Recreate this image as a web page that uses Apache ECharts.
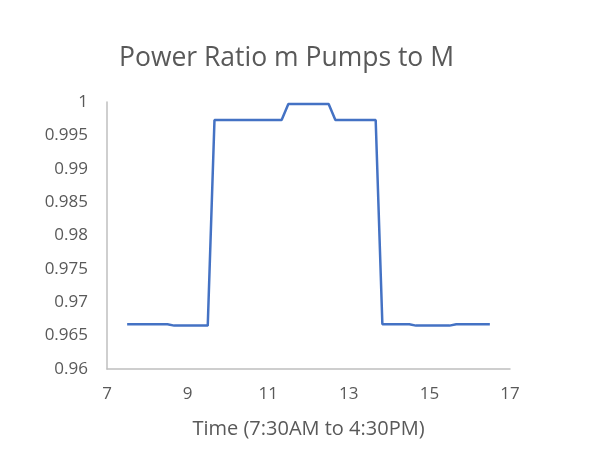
<!DOCTYPE html>
<html>
<head>
<meta charset="utf-8">
<script src="https://cdn.jsdelivr.net/npm/echarts@6/dist/echarts.min.js"></script>
<style>
  html, body { margin: 0; padding: 0; background: #fff; }
  #chart { width: 600px; height: 476px; }
</style>
</head>
<body>
<div id="chart"></div>
<script>
// time of day in hours, every 10 minutes from 7:30 to 16:30
var hours = [7.5, 7.667, 7.833, 8, 8.167, 8.333, 8.5, 8.667, 8.833, 9, 9.167, 9.333,
  9.5, 9.667, 9.833, 10, 10.167, 10.333, 10.5, 10.667, 10.833, 11, 11.167, 11.333,
  11.5, 11.667, 11.833, 12, 12.167, 12.333, 12.5, 12.667, 12.833, 13, 13.167, 13.333,
  13.5, 13.667, 13.833, 14, 14.167, 14.333, 14.5, 14.667, 14.833, 15, 15.167, 15.333,
  15.5, 15.667, 15.833, 16, 16.167, 16.333, 16.5]
var ratio = [0.9667, 0.9667, 0.9667, 0.9667, 0.9667, 0.9667, 0.9667,
  0.9665, 0.9665, 0.9665, 0.9665, 0.9665, 0.9665,
  0.9973, 0.9973, 0.9973, 0.9973, 0.9973, 0.9973, 0.9973, 0.9973, 0.9973, 0.9973, 0.9973,
  0.9997, 0.9997, 0.9997, 0.9997, 0.9997, 0.9997, 0.9997,
  0.9973, 0.9973, 0.9973, 0.9973, 0.9973, 0.9973, 0.9973,
  0.9667, 0.9667, 0.9667, 0.9667, 0.9667,
  0.9665, 0.9665, 0.9665, 0.9665, 0.9665, 0.9665,
  0.9667, 0.9667, 0.9667, 0.9667, 0.9667, 0.9667]
var xTicks = [7, 9, 11, 13, 15, 17]
var yTicks = [0.96, 0.965, 0.97, 0.975, 0.98, 0.985, 0.99, 0.995, 1]

var font = 'Open Sans'
var grey = '#595959'
var chart = echarts.init(document.getElementById('chart'))
chart.setOption({
  animation: false,
  title: {
    text: 'Power Ratio m Pumps to M',
    left: 114,
    top: 40,
    textStyle: { fontFamily: font, fontSize: 26.5, fontWeight: 'normal', color: grey }
  },
  grid: { left: 107, right: 90, top: 102, bottom: 107 },
  xAxis: {
    type: 'value',
    min: xTicks[0],
    max: xTicks[xTicks.length - 1],
    interval: 2,
    name: 'Time (7:30AM to 4:30PM)',
    nameLocation: 'middle',
    nameGap: 50,
    nameTextStyle: { fontFamily: font, fontSize: 20, color: grey },
    axisLine: { lineStyle: { color: '#bfbfbf', width: 1.5 } },
    axisTick: { show: false },
    splitLine: { show: false },
    axisLabel: { fontFamily: font, fontSize: 17, color: grey, margin: 17 }
  },
  yAxis: {
    type: 'value',
    min: yTicks[0],
    max: yTicks[yTicks.length - 1],
    interval: 0.005,
    axisLine: { show: true, lineStyle: { color: '#bfbfbf', width: 1.5 } },
    axisTick: { show: false },
    splitLine: { show: false },
    axisLabel: { fontFamily: font, fontSize: 17, color: grey, margin: 19 }
  },
  series: [{
    type: 'line',
    data: hours.map(function (h, i) { return [h, ratio[i]] }),
    showSymbol: false,
    lineStyle: { color: '#4472c4', width: 2.5 }
  }]
})
</script>
</body>
</html>
